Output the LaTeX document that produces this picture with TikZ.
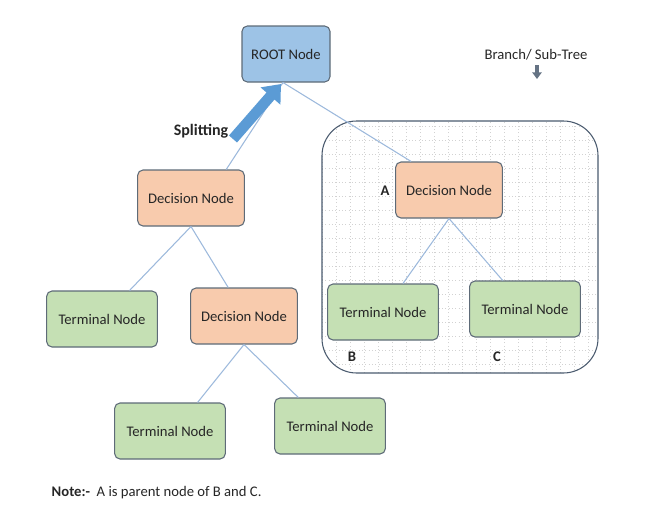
\documentclass[tikz,border=0pt]{standalone}
\usepackage{fontspec}
\setmainfont{Carlito}
\usetikzlibrary{arrows.meta}
\definecolor{rootblue}{HTML}{9DC3E6}
\definecolor{decorange}{HTML}{F8CBAD}
\definecolor{termgreen}{HTML}{C5E0B4}
\definecolor{boxedge}{HTML}{5E6B78}
\definecolor{edgeblue}{HTML}{9DB9DC}
\definecolor{splitblue}{HTML}{5B9BD5}
\definecolor{treeedge}{HTML}{4A5A6E}
\definecolor{textgray}{HTML}{262626}

\begin{document}
\begin{tikzpicture}
                \tikzset{x=0.75pt, y=-0.75pt, font=\fontsize{11}{13}\selectfont}
                \tikzstyle{box}=[rectangle, rounded corners=4pt, draw=boxedge, line width=0.8pt, minimum height=42pt, text=textgray]
                \tikzstyle{root}=[box, fill=rootblue, minimum width=66pt]
                \tikzstyle{decision}=[box, fill=decorange, minimum width=80pt]
                \tikzstyle{terminal}=[box, fill=termgreen, minimum width=83pt]
                \tikzstyle{edge}=[draw=edgeblue, line width=0.8pt]
                \tikzstyle{tag}=[text=textgray, font=\fontsize{11}{13}\selectfont\bfseries]
                \tikzstyle{gridline}=[draw=gray!35, line width=0.5pt, dotted]

                \useasboundingbox (0,0) rectangle (651,511);

                % branch / sub-tree frame
                \begin{scope}
                    \clip[rounded corners=26pt] (322,121) rectangle (598,373);
                    \draw[gridline] (322,121) grid[step=10.5pt] (598,373);
                \end{scope}
                \draw[treeedge, line width=0.8pt, rounded corners=26pt] (322,121) rectangle (598,373);

                % tree nodes
                \draw (286, 54)     node[root]      (root)  {ROOT Node};
                \draw (191,198)     node[decision]  (dleft) {Decision Node};
                \draw (449,190)     node[decision]  (da)    {Decision Node};
                \draw (102,319)     node[terminal]  (tl)    {Terminal Node};
                \draw (244,316)     node[decision]  (dmid)  {Decision Node};
                \draw (170,431)     node[terminal]  (tbl)   {Terminal Node};
                \draw (330,426)     node[terminal]  (tbr)   {Terminal Node};
                \draw (383,312)     node[terminal]  (tb)    {Terminal Node};
                \draw (525,309)     node[terminal]  (tc)    {Terminal Node};

                % annotations
                \draw (201,131)     node[tag, font=\fontsize{12}{14}\selectfont\bfseries] (split) {Splitting};
                \draw (385,191)     node[tag]       (la)    {A};
                \draw (352,357)     node[tag]       (lb)    {B};
                \draw (497,357)     node[tag]       (lc)    {C};
                \draw (536, 55)     node[text=textgray] (branch) {Branch/ Sub-Tree};
                \draw (47,493)      node[anchor=west, text=textgray] (note) {\textbf{Note:-}\ \ A is parent node of B and C.};

                % edges
                \draw[edge]         (root.264) -- (dleft.39);
                \draw[edge]         (root.264) -- (da.143);
                \draw[edge]         (dleft.south) -- (tl.46);
                \draw[edge]         (dleft.south) -- (dmid.119);
                \draw[edge]         (dmid.south) -- (tbl.46);
                \draw[edge]         (dmid.south) -- (tbr.138);
                \draw[edge]         (da.south) -- (tb.55);
                \draw[edge]         (da.south) -- (tc.128);

                % annotation arrows
                \coordinate (splitfrom) at (233,139);
                \coordinate (splitto)   at (281,84);
                \draw[splitblue, line width=8pt, -{Triangle[width=19pt, length=12pt]}] (splitfrom) -- (splitto);
                \coordinate (branchto)  at (537,79);
                \draw[treeedge!85, line width=3pt, -{Triangle[width=7pt, length=5pt]}] (branch.south -| branchto) -- (branchto);
            \end{tikzpicture}
\end{document}
